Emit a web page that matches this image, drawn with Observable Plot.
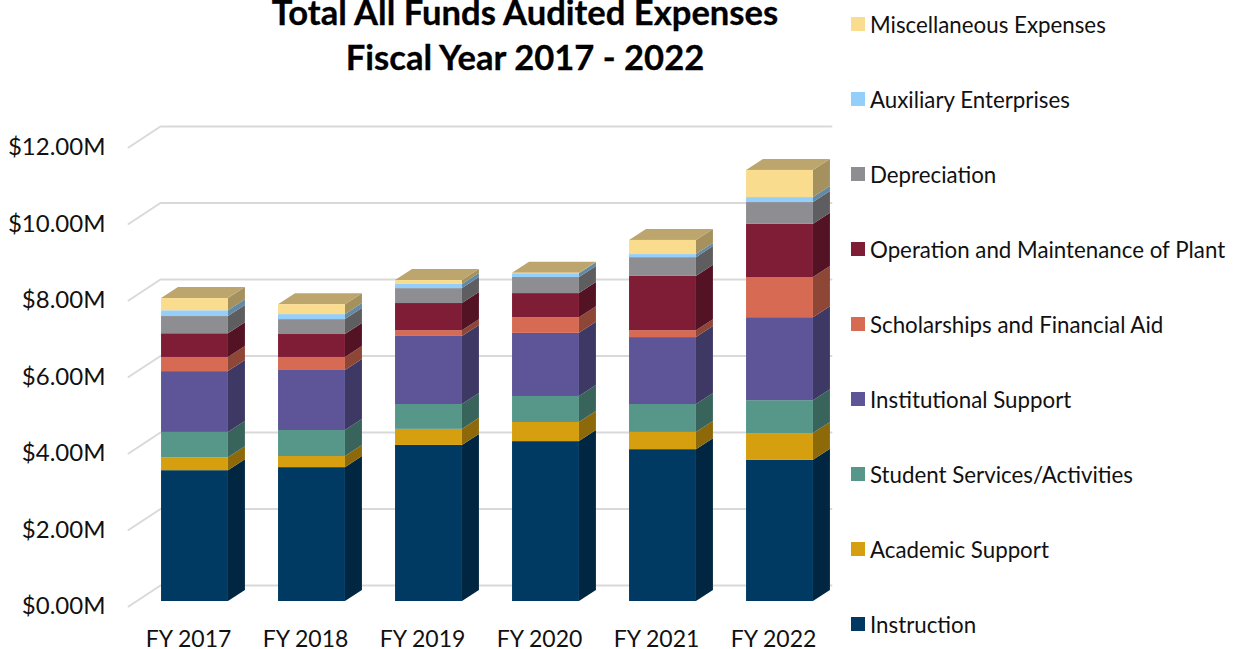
<!DOCTYPE html>
<html>
<head>
<meta charset="utf-8">
<script src="https://cdn.jsdelivr.net/npm/d3@7"></script>
<script src="https://cdn.jsdelivr.net/npm/@observablehq/plot@0.6"></script>
<style>
  html, body { margin: 0; padding: 0; background: #fff; overflow: hidden; }
  #page { position: relative; width: 1238px; height: 649px; overflow: hidden; font-family: Lato, sans-serif; color: #111; }
  #page svg { display: block; position: absolute; left: 0; top: 0; }
  #title { position: absolute; left: 225px; width: 600px; top: -11px; text-align: center; font-weight: 700; font-size: 34.6px; line-height: 45px; color: #000; -webkit-text-stroke: 0.3px #000; }
  #legend { position: absolute; left: 851px; top: -13.5px; }
  .row { height: 75px; display: flex; align-items: center; font-size: 22.3px; white-space: nowrap; }
  .sw { width: 14px; height: 14px; margin-right: 5px; flex: none; }
</style>
</head>
<body>
<div id="page">
  <div id="chart"></div>
  <div id="title">Total All Funds Audited Expenses<br>Fiscal Year 2017 - 2022</div>
  <div id="legend"></div>
</div>
<script>
const years = ["FY 2017", "FY 2018", "FY 2019", "FY 2020", "FY 2021", "FY 2022"];
const yTicks = [0, 2, 4, 6, 8, 10, 12];

const instruction   = [3.42, 3.50, 4.08, 4.18, 3.97, 3.69];
const academic      = [0.34, 0.29, 0.42, 0.50, 0.45, 0.70];
const student       = [0.66, 0.68, 0.65, 0.68, 0.73, 0.86];
const institutional = [1.59, 1.57, 1.78, 1.65, 1.75, 2.17];
const scholarships  = [0.37, 0.34, 0.15, 0.41, 0.18, 1.05];
const operation     = [0.62, 0.60, 0.71, 0.63, 1.42, 1.39];
const depreciation  = [0.45, 0.39, 0.39, 0.42, 0.49, 0.57];
const auxiliary     = [0.15, 0.13, 0.11, 0.10, 0.08, 0.13];
const miscellaneous = [0.32, 0.26, 0.10, 0.01, 0.37, 0.71];

const names = ["Instruction", "Academic Support", "Student Services/Activities", "Institutional Support",
  "Scholarships and Financial Aid", "Operation and Maintenance of Plant", "Depreciation",
  "Auxiliary Enterprises", "Miscellaneous Expenses"];
const series = [instruction, academic, student, institutional, scholarships, operation, depreciation, auxiliary, miscellaneous];
const colors = ["#003a63", "#d59f0f", "#57978a", "#5d5597", "#d76a52", "#801d36", "#8e8d92", "#94cffb", "#f9dc8e"];

// oblique depth of the 3D look, in data units
const halfW = 0.286, depthX = 0.145, depthY = 0.288;
const wallX = -0.295, wallY = 0.418, slantX = -0.568, slantY = -0.13, wallEnd = 5.44;

const shade = (c, k) => { const r = d3.rgb(c); return d3.rgb(r.r * k, r.g * k, r.b * k).formatHex(); };

const segments = [];
years.forEach((yr, i) => {
  let base = 0;
  series.forEach((s, j) => {
    segments.push({i, j, y1: base, y2: base + s[i], fill: colors[j]});
    base += s[i];
  });
});

const sides = segments.flatMap(d => {
  const x0 = d.i + halfW, id = d.i + "-" + d.j, fill = shade(d.fill, 0.66);
  return [
    {id, fill, x: x0, y1: d.y1, y2: d.y2},
    {id, fill, x: x0 + depthX, y1: d.y1 + depthY, y2: d.y2 + depthY}
  ];
});

const tops = years.flatMap((yr, i) => {
  const y = d3.sum(series, s => s[i]);
  const xl = i - halfW, xr = i + halfW;
  return [
    {i, x: xl, y1: y, y2: y},
    {i, x: xl + depthX, y1: y, y2: y + depthY},
    {i, x: xr, y1: y, y2: y + depthY},
    {i, x: xr + depthX, y1: y + depthY, y2: y + depthY}
  ];
});

const gridLines = yTicks.flatMap(v => [
  {v, x: slantX, y: v + slantY},
  {v, x: wallX, y: v + wallY},
  {v, x: wallEnd, y: v + wallY}
]);

const plot = Plot.plot({
  width: 1238,
  height: 649,
  marginLeft: 111,
  marginBottom: 25,
  marginTop: 0,
  marginRight: 0,
  style: {fontFamily: "Lato, sans-serif", fontSize: "23px", color: "#111", background: "#fff", overflow: "visible"},
  x: {domain: [0, 5], range: [194.5, 779.5]},
  y: {domain: [0, 12], range: [601, 142]},
  marks: [
    Plot.line(gridLines, {x: "x", y: "y", z: "v", stroke: "#d9d9d9", strokeWidth: 2}),
    Plot.areaY(sides, {x: "x", y1: "y1", y2: "y2", z: "id", fill: "fill"}),
    Plot.areaY(tops, {x: "x", y1: "y1", y2: "y2", z: "i", fill: "#bca66d"}),
    Plot.rect(segments, {x1: d => d.i - halfW, x2: d => d.i + halfW, y1: "y1", y2: "y2", fill: "fill"}),
    Plot.axisY({ticks: yTicks, tickSize: 0, tickPadding: 6, dy: 5, label: null,
      tickFormat: d => "$" + d.toFixed(2) + "M", fontSize: 24}),
    Plot.axisX({ticks: years.map((y, i) => i), tickSize: 0, tickPadding: 6, dx: -6.5, label: null,
      tickFormat: i => years[i], fontSize: 23})
  ]
});
document.getElementById("chart").append(plot);

const legend = document.getElementById("legend");
names.map((n, j) => [n, colors[j]]).reverse().forEach(([n, c]) => {
  const row = document.createElement("div");
  row.className = "row";
  const sw = document.createElement("span");
  sw.className = "sw";
  sw.style.background = c;
  row.append(sw, document.createTextNode(n));
  legend.append(row);
});
</script>
</body>
</html>
